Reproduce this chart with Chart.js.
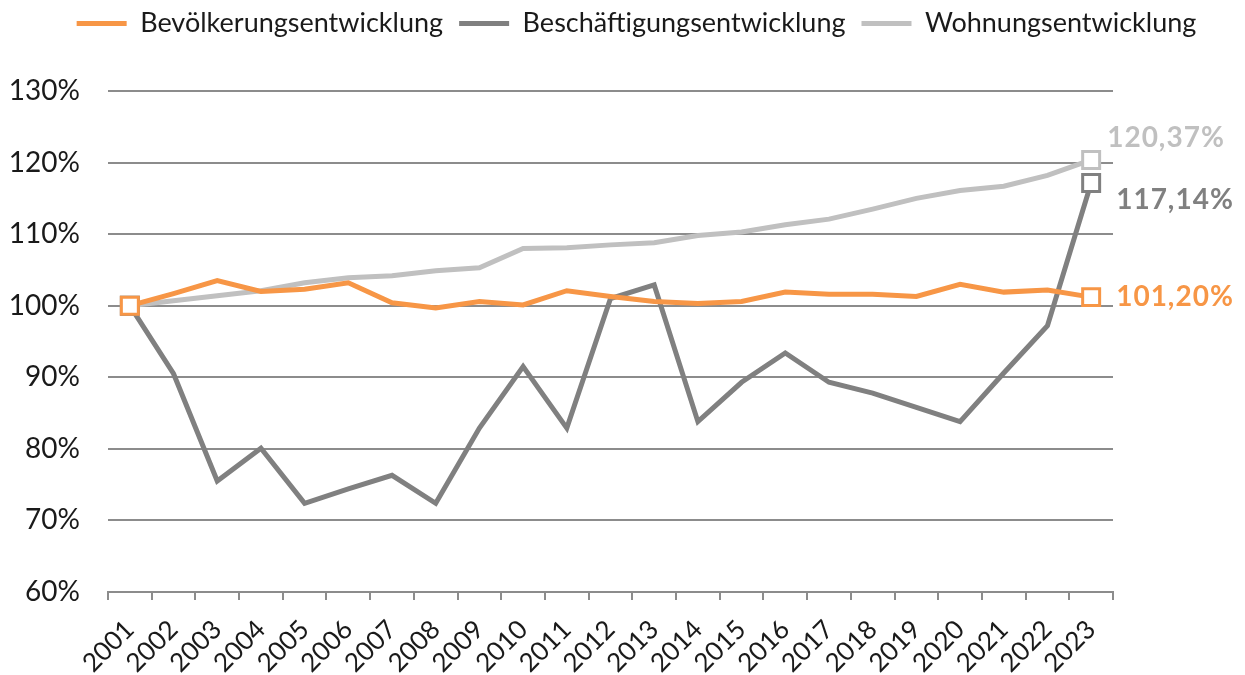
<!DOCTYPE html>
<html>
<head>
<meta charset="utf-8">
<script src="https://cdn.jsdelivr.net/npm/chart.js@4/dist/chart.umd.min.js"></script>
<style>
  html, body { margin: 0; padding: 0; background: #fff; }
  #wrap { width: 1245px; height: 675px; }
</style>
</head>
<body>
<div id="wrap"><canvas id="myChart"></canvas></div>
<script>
// Kategorien (Jahre)
var years = ['2001', '2002', '2003', '2004', '2005', '2006', '2007', '2008', '2009', '2010', '2011', '2012',
             '2013', '2014', '2015', '2016', '2017', '2018', '2019', '2020', '2021', '2022', '2023'];

// Index 2001 = 100 %
var bevoelkerung = [100, 101.7, 103.5, 102.0, 102.3, 103.2, 100.4, 99.7, 100.6, 100.1, 102.1, 101.3,
                    100.6, 100.3, 100.6, 101.9, 101.6, 101.6, 101.3, 103.0, 101.9, 102.2, 101.20];
var beschaeftigung = [100, 90.5, 75.5, 80.1, 72.4, 74.4, 76.3, 72.4, 82.9, 91.5, 82.9, 101.0,
                      102.9, 83.8, 89.3, 93.4, 89.3, 87.8, 85.8, 83.8, 90.6, 97.2, 117.14];
var wohnungen = [100, 100.7, 101.4, 102.1, 103.2, 103.9, 104.2, 104.9, 105.3, 108.0, 108.1, 108.5,
                 108.8, 109.8, 110.3, 111.3, 112.1, 113.5, 115.0, 116.1, 116.7, 118.2, 120.37];

var seriesNames = ['Bevölkerungsentwicklung', 'Beschäftigungsentwicklung', 'Wohnungsentwicklung'];

// y-Achse
var yMin = 60, yMax = 130, yStep = 10;

var orange = '#F79646';
var darkGrey = '#808080';
var lightGrey = '#C0C0C0';
var gridGrey = '#8C8C8C';
var textCol = '#1a1a1a';

// Versatz der Endwert-Beschriftungen [dx, dy]
var labelOffsets = [[25, 0], [25, 17], [16, -22]];

// nur erster und letzter Punkt bekommen einen Marker
function endMarkers(n, r) {
    var a = [];
    for (var i = 0; i < n; i++) a.push(i === 0 || i === n - 1 ? r : 0);
    return a;
}

function series(label, data, color) {
    return {
        label: label,
        data: data,
        borderColor: color,
        backgroundColor: color,
        borderWidth: 5,
        tension: 0,
        yAxisID: 'y',
        pointStyle: 'rect',
        pointRadius: endMarkers(data.length, 12),
        pointHoverRadius: endMarkers(data.length, 12),
        pointBackgroundColor: '#fff',
        pointBorderColor: color,
        pointBorderWidth: 3
    };
}

var endLabels = {
    id: 'endLabels',
    beforeLayout: function(chart) {
        // mehr Luft unter der Legende, Legende etwas nach rechts
        var lg = chart.legend;
        if (lg && !lg._extra) {
            var fit = lg.fit, draw = lg.draw;
            lg.fit = function() { fit.call(this); this.height += 44; };
            lg.draw = function() {
                this.ctx.save();
                this.ctx.translate(14, 0);
                draw.call(this);
                this.ctx.restore();
            };
            lg._extra = true;
        }
    },
    afterDatasetsDraw: function(chart) {
        var ctx = chart.ctx;
        chart.data.datasets.forEach(function(ds, i) {
            var meta = chart.getDatasetMeta(i);
            var last = meta.data[meta.data.length - 1];
            var v = ds.data[ds.data.length - 1];
            ctx.save();
            ctx.font = 'bold 28px Lato';
            ctx.letterSpacing = '1px';
            ctx.fillStyle = ds.borderColor;
            ctx.textAlign = 'left';
            ctx.textBaseline = 'middle';
            ctx.fillText(v.toFixed(2).replace('.', ',') + '%', last.x + labelOffsets[i][0], last.y + labelOffsets[i][1]);
            ctx.restore();
        });
    }
};

var ctx = document.getElementById('myChart').getContext('2d');
var chart = new Chart(ctx, {
    type: 'line',
    data: {
        labels: years,
        datasets: [
            series(seriesNames[0], bevoelkerung, orange),
            series(seriesNames[1], beschaeftigung, darkGrey),
            series(seriesNames[2], wohnungen, lightGrey)
        ]
    },
    plugins: [endLabels],
    options: {
        responsive: true,
        maintainAspectRatio: false,
        animation: false,
        layout: { padding: { top: -6, right: 0, left: 0, bottom: 0 } },
        plugins: {
            tooltip: { enabled: false },
            legend: {
                position: 'top',
                labels: {
                    font: { family: 'Lato', size: 27 },
                    color: textCol,
                    boxWidth: 50,
                    boxHeight: 5,
                    padding: 16,
                    generateLabels: function(chart) {
                        return chart.data.datasets.map(function(ds, i) {
                            return {
                                text: ds.label,
                                fillStyle: ds.borderColor,
                                strokeStyle: ds.borderColor,
                                lineWidth: 0,
                                datasetIndex: i,
                                fontColor: textCol
                            };
                        });
                    }
                }
            }
        },
        scales: {
            x: {
                offset: true,
                grid: {
                    offset: true,
                    drawOnChartArea: false,
                    drawTicks: true,
                    tickLength: 8,
                    color: gridGrey,
                    lineWidth: 2
                },
                border: { display: true, color: gridGrey, width: 2 },
                ticks: {
                    font: { family: 'Lato', size: 26 },
                    color: textCol,
                    minRotation: 45,
                    maxRotation: 45,
                    padding: 14,
                    autoSkip: false
                },
                afterFit: function(scale) { scale.height = 83; }
            },
            y: {
                min: yMin,
                max: yMax,
                grid: {
                    color: gridGrey,
                    lineWidth: 2,
                    drawTicks: false
                },
                border: { display: false },
                ticks: {
                    stepSize: yStep,
                    font: { family: 'Lato', size: 28 },
                    color: textCol,
                    padding: 28,
                    callback: function(v) { return v + '%'; }
                },
                afterFit: function(scale) { scale.width = 108; }
            },
            // leerer Platz rechts für die Endwert-Beschriftungen
            rechts: {
                type: 'linear',
                position: 'right',
                grid: { display: false },
                border: { display: false },
                ticks: { display: false },
                afterFit: function(scale) { scale.width = 132; }
            }
        }
    }
});
</script>
</body>
</html>
